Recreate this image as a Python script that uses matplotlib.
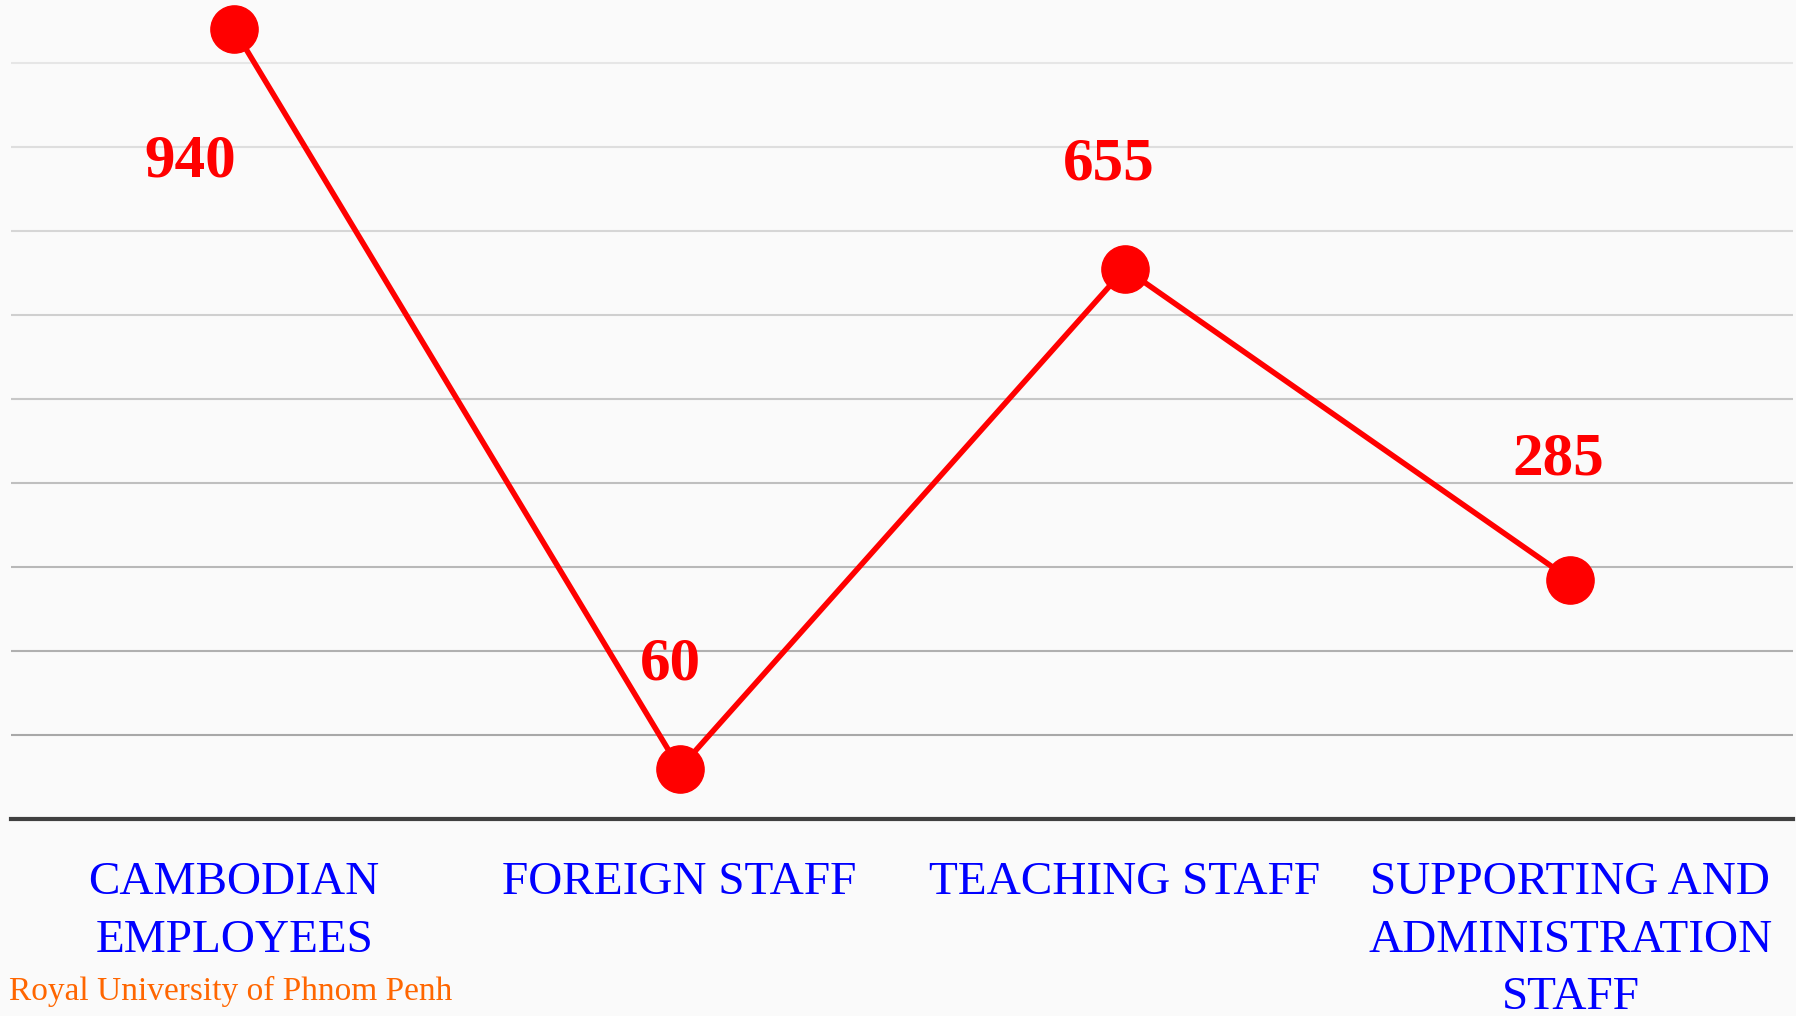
import matplotlib.pyplot as plt

# chart data
categories = ['CAMBODIAN\nEMPLOYEES', 'FOREIGN STAFF', 'TEACHING STAFF',
              'SUPPORTING AND\nADMINISTRATION\nSTAFF']
values = [940, 60, 655, 285]
grid_ticks = [100, 200, 300, 400, 500, 600, 700, 800, 900]
# label offsets in pixels from each point
label_offsets = [(-44, -132), (-9, 104), (-16, 104), (-12, 120)]

fig = plt.figure(figsize=(17.96, 10.16), dpi=100, facecolor='#fafafa')
ax = fig.add_axes([0.0064, 0.194, 0.992, 0.806])
ax.set_facecolor('#fafafa')

x = list(range(len(values)))
ax.plot(x, values, color='#ff0000', linewidth=4, marker='o',
        markersize=34, zorder=3, solid_capstyle='round')

for i, v in enumerate(values):
    dx, dy = label_offsets[i]
    ax.annotate(str(v), (x[i], v), xytext=(dx, dy), textcoords='offset pixels',
                ha='center', va='center', color='#ff0000', fontsize=44,
                fontweight='bold', family='Liberation Serif')

ax.set_xlim(-0.5, 3.5)
ax.set_ylim(0, 975)

# gridlines fade lighter toward the top
for j, t in enumerate(grid_ticks):
    frac = j / (len(grid_ticks) - 1)
    g = 0.66 + 0.24 * frac
    ax.axhline(t, color=(g, g, g), linewidth=1.5, zorder=1)

for s in ['top', 'right', 'left']:
    ax.spines[s].set_visible(False)
ax.spines['bottom'].set_color('#404040')
ax.spines['bottom'].set_linewidth(3)

ax.set_yticks([])
ax.set_xticks(x)
ax.set_xticklabels(categories, color='#0000ff', fontsize=34,
                   family='Liberation Serif', linespacing=1.47)
ax.tick_params(axis='x', length=0, pad=30.5)

fig.text(0.005, 0.016, 'Royal University of Phnom Penh', color='#ff6600',
         fontsize=24, family='Liberation Serif', ha='left', va='baseline')

plt.savefig('out.png', dpi=100, facecolor=fig.get_facecolor())
